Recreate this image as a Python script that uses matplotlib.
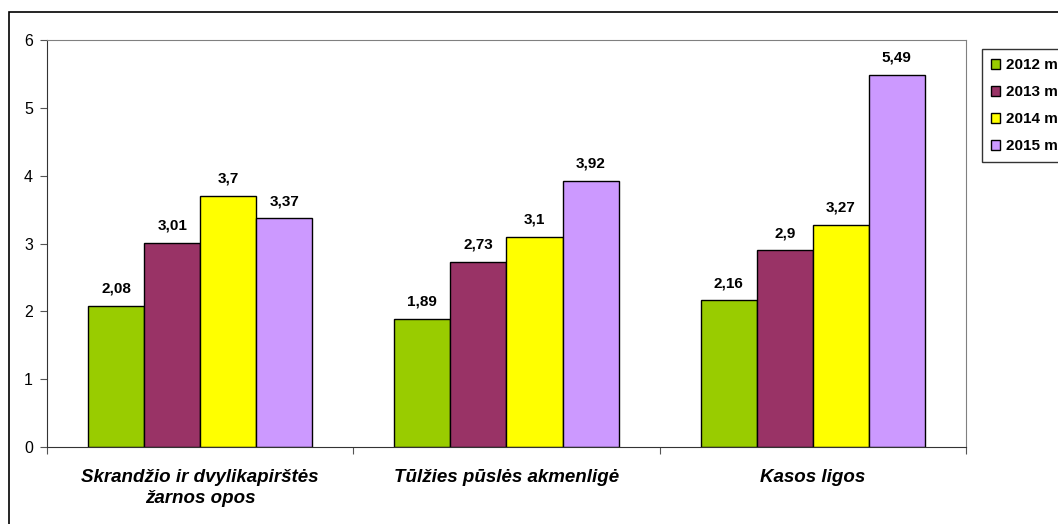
import matplotlib.pyplot as plt
import matplotlib.patches as patches
import numpy as np

plt.rcParams['font.family'] = ['Liberation Sans', 'DejaVu Sans']

categories = ['Skrandžio ir dvylikapirštės\nžarnos opos', 'Tūlžies pūslės akmenligė', 'Kasos ligos']
years = ['2012 m.', '2013 m.', '2014 m.', '2015 m.']
v2012 = [2.08, 1.89, 2.16]
v2013 = [3.01, 2.73, 2.9]
v2014 = [3.7, 3.1, 3.27]
v2015 = [3.37, 3.92, 5.49]
series = [v2012, v2013, v2014, v2015]
colors = ['#99CC00', '#993366', '#FFFF00', '#CC99FF']

W, H = 1058, 524
fig = plt.figure(figsize=(W / 100, H / 100), dpi=100)
ax = fig.add_axes([47 / W, (H - 447) / H, (966 - 47) / W, (447 - 40) / H])

# outer chart border (cut off at right and bottom)
fig.patches.append(patches.Rectangle((9 / W, -0.1), 1.2, (H - 12) / H + 0.1,
                                     transform=fig.transFigure, fill=False,
                                     edgecolor='black', linewidth=1.2))

x = np.arange(len(categories))
bw = 0.183
handles = []
for i, (vals, c) in enumerate(zip(series, colors)):
    pos = x + (i - 1.5) * bw
    b = ax.bar(pos, vals, bw, color=c, edgecolor='black', linewidth=1, label=years[i])
    handles.append(b)
    for p, v in zip(pos, vals):
        ax.annotate(('%g' % v).replace('.', ','), (p, v), xytext=(0, 9.5),
                    textcoords='offset points', ha='center', va='baseline',
                    fontsize=11, fontweight='bold')

ax.set_xlim(-0.5, 2.5)
ax.set_ylim(0, 6)
ax.set_yticks(range(7))
ax.set_yticklabels([str(i) for i in range(7)], fontsize=11.5)
ax.set_xticks([-0.5, 0.5, 1.5, 2.5])
ax.set_xticklabels([])
ax.set_xticks(x, minor=True)
ax.set_xticklabels(categories, minor=True, fontsize=13.5, fontweight='bold',
                   style='italic', linespacing=1.3)
ax.tick_params(axis='x', which='minor', length=0, pad=16)
ax.tick_params(axis='x', which='major', length=5, color='#555555', direction='out')
ax.tick_params(axis='y', length=5, color='#555555', direction='out', pad=5)
for s in ['top', 'right']:
    ax.spines[s].set_color('#808080')
for s in ['left', 'bottom']:
    ax.spines[s].set_color('#333333')

leg = fig.legend(handles=handles, labels=years, loc='upper left',
                 bbox_to_anchor=(982 / W, 1 - 49 / H), frameon=True,
                 fancybox=False, edgecolor='black', prop={'weight': 'bold', 'size': 11},
                 handlelength=0.6, handleheight=0.6, handletextpad=0.4,
                 labelspacing=0.85, borderpad=0.6, borderaxespad=0)
leg.get_frame().set_linewidth(1)

fig.savefig('out.png', dpi=100)
